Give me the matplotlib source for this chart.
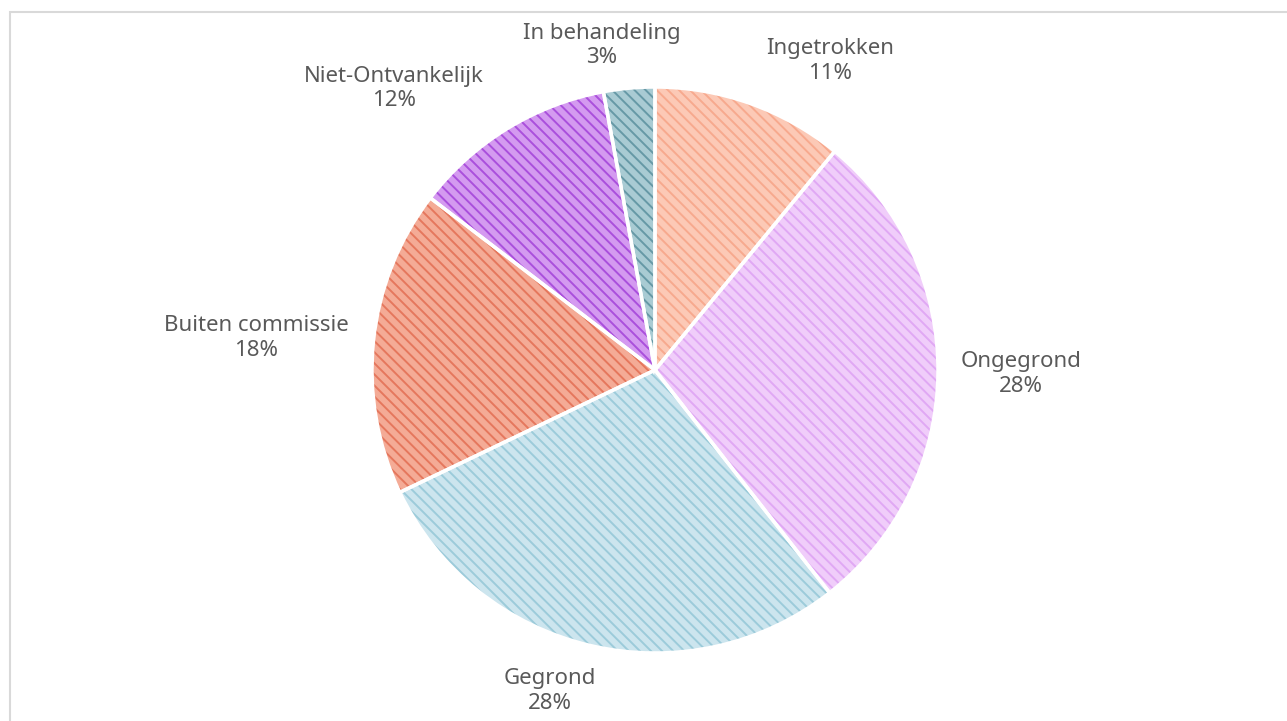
import matplotlib.pyplot as plt
from matplotlib.patches import Rectangle

# Data (counts; they reproduce the rounded percentages)
categories = ['Ingetrokken', 'Ongegrond', 'Gegrond', 'Buiten commissie',
              'Niet-Ontvankelijk', 'In behandeling']
counts = [15, 39, 39, 24, 16, 4]

# Slice styling: light fill with darker diagonal stripes
fill_colors = ['#fcc9b6', '#f0cdfa', '#cce5ee', '#f4ab96', '#d49af0', '#a9cbd3']
stripe_colors = ['#f7a98e', '#e0a8f4', '#9ccbda', '#e5775d', '#aa4fdc', '#6699a6']

# Label block centres (data units, pie radius = 1)
label_pos = [(0.62, 1.092), (1.293, -0.014), (-0.371, -1.134),
             (-1.410, 0.113), (-0.922, 0.996), (-0.187, 1.148)]


def main():
    plt.rcParams['hatch.linewidth'] = 1.4
    fig = plt.figure(figsize=(12.87, 7.21), dpi=100)

    # light grey frame running off the right and bottom edges
    fig.patches.append(Rectangle((9.5 / 1287, -0.05), 1.2, (721 - 12.5) / 721 + 0.05,
                                 transform=fig.transFigure, fill=False,
                                 edgecolor='#d9d9d9', linewidth=1.5))

    cx, cy, r = 655 / 1287, (721 - 370) / 721, 283
    ax = fig.add_axes([cx - r / 1287, cy - r / 721, 2 * r / 1287, 2 * r / 721])

    wedges, _ = ax.pie(counts, startangle=90, counterclock=False,
                       colors=fill_colors, radius=1)
    for w, sc in zip(wedges, stripe_colors):
        w.set_edgecolor(sc)
        w.set_linewidth(0)
        w.set_hatch('\\\\\\')

    # white separators on top
    ax.pie(counts, startangle=90, counterclock=False, radius=1,
           wedgeprops=dict(facecolor='none', edgecolor='white', linewidth=2.5))

    total = sum(counts)
    for name, c, (x, y) in zip(categories, counts, label_pos):
        ax.text(x, y, f'{name}\n{round(100 * c / total)}%', ha='center', va='center',
                fontsize=16, color='#595959', family='Noto Sans',
                linespacing=1.2, clip_on=False)

    ax.set_xlim(-1, 1)
    ax.set_ylim(-1, 1)
    ax.set_aspect('equal')
    ax.axis('off')

    fig.savefig('out.png', dpi=100)


if __name__ == '__main__':
    main()
